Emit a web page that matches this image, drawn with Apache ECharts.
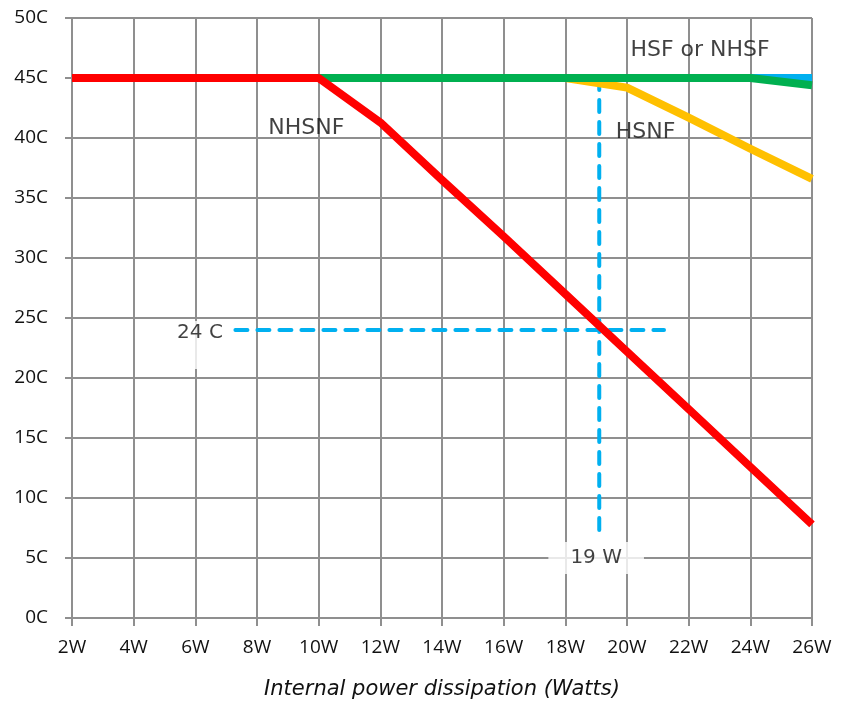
<!DOCTYPE html>
<html>
<head>
<meta charset="utf-8">
<script src="https://cdn.jsdelivr.net/npm/echarts@6/dist/echarts.min.js"></script>
<style>
  html, body { margin: 0; padding: 0; background: #fff; }
  #chart { width: 848px; height: 704px; }
</style>
</head>
<body>
<div id="chart"></div>
<script>
// power dissipation (W) on the x axis
const watts = [2, 4, 6, 8, 10, 12, 14, 16, 18, 20, 22, 24, 26];
// max ambient temperature (C) per configuration
const hsf   = [45, 45, 45, 45, 45, 45, 45, 45, 45, 45, 45, 45, 45];
const nhsf  = [45, 45, 45, 45, 45, 45, 45, 45, 45, 45, 45, 45, 44.4];
const hsnf  = [45, 45, 45, 45, 45, 45, 45, 45, 45, 44.2, 41.7, 39.1, 36.6];
const nhsnf = [45, 45, 45, 45, 45, 41.3, 36.5, 31.8, 27.0, 22.2, 17.4, 12.6, 7.8];

// reading example: 19 W -> 24 C
const refWatts = 19.1;
const refTemp = 24;
const refHLine = [7.3, 21.2];   // extent of horizontal guide (W)
const refVLine = [45, 6.7];     // extent of vertical guide (C)

const gridColor = "#8f8f8f";
const textColor = "#111";

function pairs(ys) {
  return watts.map((w, i) => [w, ys[i]]);
}

function curve(name, ys, color) {
  return {
    name: name,
    type: "line",
    data: pairs(ys),
    symbol: "none",
    lineStyle: { color: color, width: 8, join: "round" },
    animation: false,
  };
}

function guide(data) {
  return {
    type: "line",
    data: data,
    symbol: "none",
    lineStyle: { color: "#00b0f0", width: 4, type: [12, 10], cap: "round" },
    animation: false,
  };
}

let myChart = echarts.init(document.getElementById("chart"));

let option = {
  backgroundColor: "#fff",
  grid: { left: 72, right: 36, top: 18, bottom: 86, outerBoundsMode: "none", containLabel: false },
  xAxis: {
    type: "value",
    min: 2,
    max: 26,
    interval: 2,
    name: "Internal power dissipation (Watts)",
    nameLocation: "middle",
    nameGap: 61,
    nameTextStyle: {
      fontFamily: "DejaVu Sans",
      fontStyle: "italic",
      fontSize: 21,
      color: textColor,
    },
    axisLine: { show: true, onZero: false, lineStyle: { color: gridColor, width: 2 } },
    axisTick: { show: true, length: 8, lineStyle: { color: gridColor, width: 2 } },
    splitLine: { show: true, lineStyle: { color: gridColor, width: 2 } },
    axisLabel: {
      formatter: "{value}W",
      fontFamily: "Open Sans",
      fontSize: 19,
      color: textColor,
      margin: 20,
    },
  },
  yAxis: {
    type: "value",
    min: 0,
    max: 50,
    interval: 5,
    axisLine: { show: true, lineStyle: { color: gridColor, width: 2 } },
    axisTick: { show: true, length: 7, lineStyle: { color: gridColor, width: 2 } },
    splitLine: { show: true, lineStyle: { color: gridColor, width: 2 } },
    axisLabel: {
      formatter: "{value}C",
      fontFamily: "Open Sans",
      fontSize: 19,
      color: textColor,
      margin: 24,
    },
  },
  series: [
    // annotation text with white boxes
    {
      type: "scatter",
      symbolSize: 0,
      silent: true,
      animation: false,
      z: 1,
      label: {
        show: true,
        position: "inside",
        formatter: "{b}",
        fontFamily: "DejaVu Sans",
        fontSize: 20,
        color: textColor,
        textBorderWidth: 0,
        backgroundColor: "#fff",
      },
      data: [
        {
          name: "24 C",
          value: [6.15, refTemp],
          label: { verticalAlign: "top", padding: [2, 10, 26, 10], offset: [0, -9] },
        },
        { name: "19 W", value: [19, 5], label: { padding: [6, 22, 6, 22] } },
      ],
    },
    guide([[refHLine[0], refTemp], [refHLine[1], refTemp]]),
    guide([[refWatts, refVLine[0]], [refWatts, refVLine[1]]]),
    curve("HSF", hsf, "#00b0f0"),
    curve("HSNF", hsnf, "#ffc000"),
    curve("NHSF", nhsf, "#00b050"),
    curve("NHSNF", nhsnf, "#ff0000"),
    // curve names
    {
      type: "scatter",
      symbolSize: 0,
      silent: true,
      animation: false,
      z: 5,
      label: {
        show: true,
        position: "inside",
        formatter: "{b}",
        fontFamily: "DejaVu Sans",
        fontSize: 22,
        color: textColor,
        textBorderWidth: 0,
      },
      data: [
        { name: "HSF or NHSF", value: [22.37, 47.3] },
        { name: "HSNF", value: [20.6, 40.5] },
        { name: "NHSNF", value: [9.6, 40.8] },
      ],
    },
  ],
};

myChart.setOption(option, true);

window.addEventListener("resize", () => {
  myChart.resize();
});
</script>
</body>
</html>
